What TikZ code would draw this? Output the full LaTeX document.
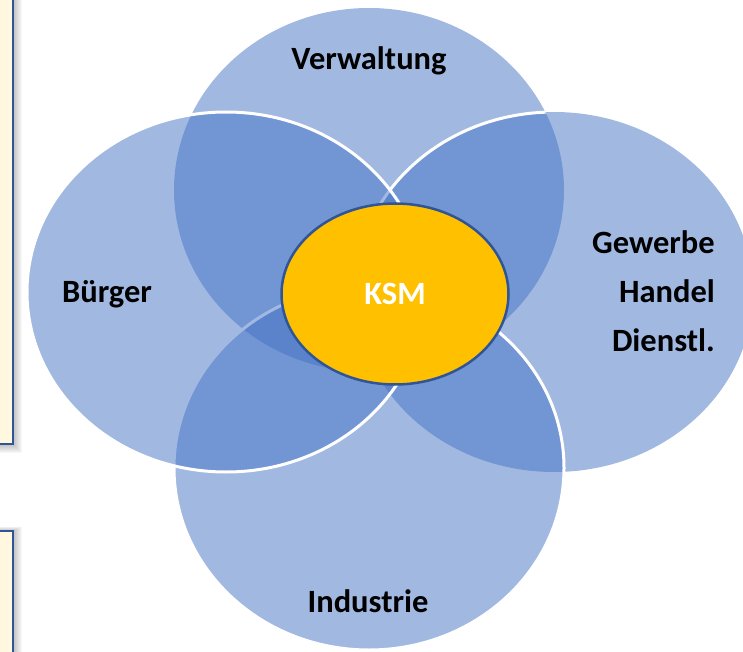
\documentclass[tikz,border=0pt]{standalone}
\usepackage{fontspec}
\setmainfont{Carlito}
\usetikzlibrary{shapes.geometric}
\definecolor{petalblue}{HTML}{4472C4}
\definecolor{ksmgold}{HTML}{FFC000}
\definecolor{rimblue}{HTML}{2F5597}
\definecolor{notecream}{HTML}{FFF7E0}

\begin{document}
\begin{tikzpicture}[x=1pt, y=-1pt,
    petal/.style={fill=petalblue, fill opacity=0.5},
    rim/.style={draw=white, line width=3pt},
    lbl/.style={font=\fontsize{32.5}{49}\selectfont\bfseries, inner sep=0pt},
    notebox/.style={fill=notecream, draw=rimblue, line width=2pt}]
    \clip (0,0) rectangle (743,652);

    % note boxes cut off at the left edge
    \foreach \s in {1,...,9} {
        \fill[black, opacity=0.03] (-10,-10) rectangle (13+\s, 444+\s);
        \fill[black, opacity=0.03] (-10,531-\s/2) rectangle (13+\s, 670);
    }
    \draw[notebox] (-10,-10) rectangle (13,444);
    \draw[notebox] (-10,531) rectangle (13,670);

    \coordinate (cverw) at (369,190);
    \coordinate (cgew) at (554,292);
    \coordinate (cind) at (369,468);
    \coordinate (cbuerg) at (226,292);

    \fill[petal] (cverw) ellipse [x radius=195, y radius=182];
    \fill[petal] (cgew) ellipse [x radius=199, y radius=180];
    \begin{scope}
        \clip (cverw) ellipse [x radius=195, y radius=182];
        \draw[rim] (cgew) ellipse [x radius=199, y radius=180];
    \end{scope}
    \fill[petal] (cind) ellipse [x radius=195, y radius=182];
    \draw[rim] (cind) ellipse [x radius=195, y radius=182];
    \fill[petal] (cbuerg) ellipse [x radius=199, y radius=180];
    \draw[rim] (cbuerg) ellipse [x radius=199, y radius=180];

    \node[ellipse, fill=ksmgold, draw=rimblue, line width=2.5pt,
          minimum width=227, minimum height=181, inner sep=0pt,
          font=\fontsize{32.5}{38}\selectfont\bfseries, text=white] (ksm) at (395,294) {KSM};

    \node[lbl, anchor=base] (verw) at (369,70) {Verwaltung};
    \node[lbl, anchor=base] (buerg) at (107,302) {Bürger};
    \node[lbl, anchor=base] (ind) at (368,612) {Industrie};
    \node[lbl, anchor=east, align=right] (gew) at (715,291) {Gewerbe\\Handel\\Dienstl.};
\end{tikzpicture}
\end{document}
